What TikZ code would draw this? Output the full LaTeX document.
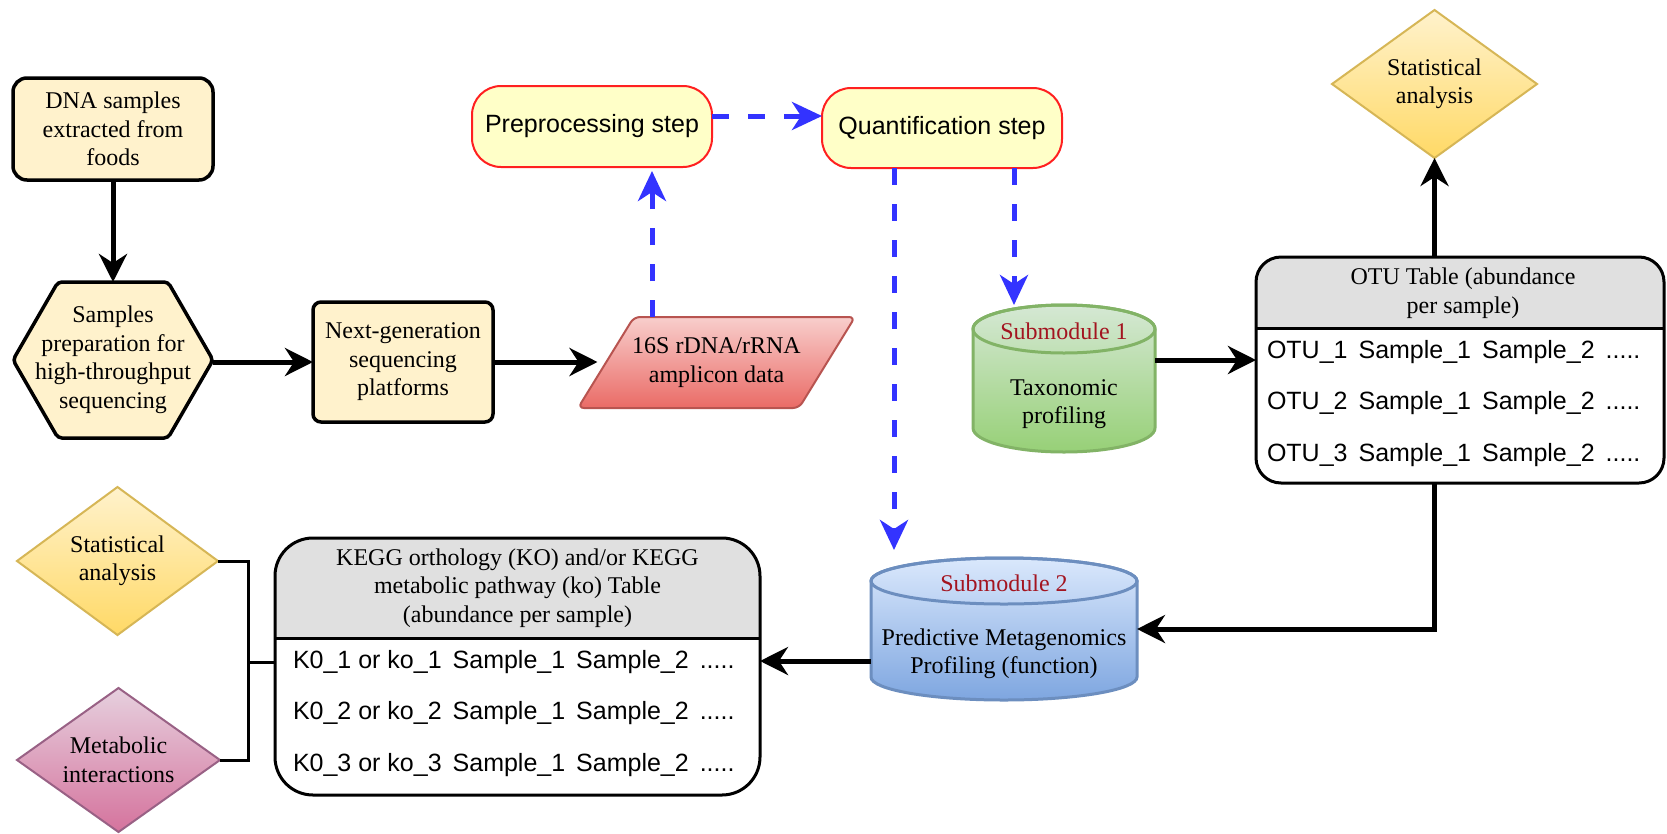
\documentclass[tikz,border=0pt]{standalone}
\usepackage{fontspec}
\setmainfont{Liberation Serif}
\newfontfamily\arialf{Liberation Sans}
\usetikzlibrary{shapes.geometric,arrows.meta,calc}
\pgfdeclarelayer{bg}
\pgfsetlayers{bg,main}
\definecolor{beige}{HTML}{FFF2CC}
\definecolor{pillfill}{HTML}{FFFFC8}
\definecolor{pillline}{HTML}{FF2020}
\definecolor{redtop}{HTML}{F8CECC}
\definecolor{redbot}{HTML}{EA6B66}
\definecolor{redline}{HTML}{B85450}
\definecolor{grtop}{HTML}{D5E8D4}
\definecolor{grbot}{HTML}{97D077}
\definecolor{grline}{HTML}{82B366}
\definecolor{bltop}{HTML}{DAE8FC}
\definecolor{blbot}{HTML}{7EA6E0}
\definecolor{blline}{HTML}{6C8EBF}
\definecolor{yltop}{HTML}{FFF2CC}
\definecolor{ylbot}{HTML}{FFD966}
\definecolor{ylline}{HTML}{D6B656}
\definecolor{pktop}{HTML}{E6D0DE}
\definecolor{pkbot}{HTML}{D5739D}
\definecolor{pkline}{HTML}{996185}
\definecolor{hdrgray}{HTML}{E0E0E0}
\definecolor{subred}{HTML}{A31420}
\definecolor{dashblue}{HTML}{3333FF}
\begin{document}
\begin{tikzpicture}[x=1pt,y=-1pt,
  serif/.style={font=\fontsize{24}{28.5}\selectfont, align=center, inner sep=0pt, outer sep=0pt},
  sanstxt/.style={font=\arialf\fontsize{25}{30}\selectfont, inner sep=0pt, outer sep=0pt},
  stepbox/.style={serif, draw=black, line width=3.5pt, fill=beige},
  holder/.style={inner sep=0pt, outer sep=0pt},
  pill/.style={sanstxt, align=center, draw=pillline, line width=2pt, fill=pillfill, rounded corners=29pt},
  dia/.style={diamond, aspect=1.38, serif, line width=2pt},
  arr/.style={-{Stealth[length=28pt,width=28pt,inset=9pt]}, line width=5pt, draw=black},
  darr/.style={-{Stealth[length=30pt,width=28pt,inset=9pt]}, line width=5pt, draw=dashblue, dash pattern=on 17pt off 19pt},
  brk/.style={line width=3pt, draw=black},
  tblline/.style={draw=black, line width=3pt},
  shapeline/.style={draw=black, line width=3.5pt}
]
\begin{pgfonlayer}{bg}
\fill[white] (0,0) rectangle (1667,833);
\end{pgfonlayer}
\useasboundingbox (0,0) rectangle (1667,833);

% ---------- nodes ----------
\node[stepbox, rounded corners=14pt, minimum width=200pt, minimum height=102pt] (dna) at (113,129) {DNA samples\\extracted from\\foods};
\node[serif, minimum width=200pt, minimum height=156pt] (prep) at (113,360) {Samples\\preparation for\\high-throughput\\sequencing};
\node[stepbox, rounded corners=8pt, minimum width=180pt, minimum height=120pt] (ngs) at (403,362) {Next-generation\\sequencing\\platforms};
\node[serif, minimum width=238pt, minimum height=91pt] (data) at (716.5,362.5) {16S rDNA/rRNA\\amplicon data};
\node[pill, minimum width=240pt, minimum height=81pt] (pre) at (592,126.5) {Preprocessing step};
\node[pill, minimum width=240pt, minimum height=80pt] (quant) at (942,128) {Quantification step};

\node[holder, minimum width=182pt, minimum height=147pt] (sub1) at (1064,378.5) {};
\node[serif, text=subred] (sub1t) at (1064,331) {Submodule 1};
\node[serif] (sub1b) at (1064,404) {Taxonomic\\profiling};

\node[holder, minimum width=266pt, minimum height=142pt] (sub2) at (1004,629) {};
\node[serif, text=subred] (sub2t) at (1004,583) {Submodule 2};
\node[serif] (sub2b) at (1004,654) {Predictive Metagenomics\\Profiling (function)};

\node[holder, minimum width=408pt, minimum height=226pt] (otu) at (1460,370) {};
\node[serif] (otuh) at (1463,293) {OTU Table (abundance\\per sample)};
\node[sanstxt, anchor=west] (otu1) at (1267,352) {OTU\_1\hspace{11pt}Sample\_1\hspace{11pt}Sample\_2\hspace{11pt}.....};
\node[sanstxt, anchor=west] (otu2) at (1267,403) {OTU\_2\hspace{11pt}Sample\_1\hspace{11pt}Sample\_2\hspace{11pt}.....};
\node[sanstxt, anchor=west] (otu3) at (1267,455) {OTU\_3\hspace{11pt}Sample\_1\hspace{11pt}Sample\_2\hspace{11pt}.....};

\node[holder, minimum width=485pt, minimum height=257pt] (kegg) at (517.5,666.5) {};
\node[serif] (keggh) at (517.5,588) {KEGG orthology (KO) and/or KEGG\\metabolic pathway (ko) Table\\(abundance per sample)};
\node[sanstxt, anchor=west] (kegg1) at (293,662) {K0\_1 or ko\_1\hspace{11pt}Sample\_1\hspace{11pt}Sample\_2\hspace{11pt}.....};
\node[sanstxt, anchor=west] (kegg2) at (293,713) {K0\_2 or ko\_2\hspace{11pt}Sample\_1\hspace{11pt}Sample\_2\hspace{11pt}.....};
\node[sanstxt, anchor=west] (kegg3) at (293,765) {K0\_3 or ko\_3\hspace{11pt}Sample\_1\hspace{11pt}Sample\_2\hspace{11pt}.....};

\node[dia, draw=ylline, top color=yltop, bottom color=ylbot, minimum width=205pt, minimum height=148pt] (stat1) at (1434.5,84) {Statistical\\analysis};
\node[dia, draw=ylline, top color=yltop, bottom color=ylbot, minimum width=201pt, minimum height=148pt] (stat2) at (117.5,561) {Statistical\\analysis};
\node[dia, aspect=1.41, draw=pkline, top color=pktop, bottom color=pkbot, minimum width=203pt, minimum height=144pt] (meta) at (118.5,760) {Metabolic\\interactions};

% ---------- shapes behind the texts ----------
\begin{pgfonlayer}{bg}
% hexagon
\draw[shapeline, fill=beige, rounded corners=4pt] (prep.west) -- ([xshift=45pt]prep.north west) -- ([xshift=-45pt]prep.north east) -- (prep.east) -- ([xshift=-45pt]prep.south east) -- ([xshift=45pt]prep.south west) -- cycle;
% parallelogram
\draw[draw=redline, line width=2pt, top color=redtop, bottom color=redbot, rounded corners=6pt]
  ([xshift=-19.5pt]data.south west) -- ([xshift=36.5pt]data.north west) -- ([xshift=19.5pt]data.north east) -- ([xshift=-36.5pt]data.south east) -- cycle;
% cylinder 1
\path[draw=grline, line width=3pt, top color=grtop, bottom color=grbot]
  ([yshift=-24pt]sub1.north west) -- ([yshift=24pt]sub1.south west)
  arc[start angle=180, end angle=0, x radius=91, y radius=24]
  -- ([yshift=-24pt]sub1.north east)
  arc[start angle=0, end angle=-180, x radius=91, y radius=24] -- cycle;
\draw[grline, line width=3pt] ([yshift=-24pt]sub1.north) ellipse[x radius=91, y radius=24];
% cylinder 2
\path[draw=blline, line width=3pt, top color=bltop, bottom color=blbot]
  ([yshift=-23pt]sub2.north west) -- ([yshift=23pt]sub2.south west)
  arc[start angle=180, end angle=0, x radius=133, y radius=23]
  -- ([yshift=-23pt]sub2.north east)
  arc[start angle=0, end angle=-180, x radius=133, y radius=23] -- cycle;
\draw[blline, line width=3pt] ([yshift=-23pt]sub2.north) ellipse[x radius=133, y radius=23];
% OTU table
\fill[white, rounded corners=25pt] (otu.south west) rectangle (otu.north east);
\begin{scope}
\clip[rounded corners=25pt] (otu.south west) rectangle (otu.north east);
\fill[hdrgray] (otu.north west) rectangle ([yshift=-71pt]otu.north east);
\end{scope}
\draw[tblline] ([yshift=-71pt]otu.north west) -- ([yshift=-71pt]otu.north east);
\draw[tblline, rounded corners=25pt] (otu.south west) rectangle (otu.north east);
% KEGG table
\fill[white, rounded corners=38pt] (kegg.south west) rectangle (kegg.north east);
\begin{scope}
\clip[rounded corners=38pt] (kegg.south west) rectangle (kegg.north east);
\fill[hdrgray] (kegg.north west) rectangle ([yshift=-100pt]kegg.north east);
\end{scope}
\draw[tblline] ([yshift=-100pt]kegg.north west) -- ([yshift=-100pt]kegg.north east);
\draw[tblline, rounded corners=38pt] (kegg.south west) rectangle (kegg.north east);
\end{pgfonlayer}

% ---------- connectors ----------
\draw[arr] (dna.south) -- (prep.north);
\draw[arr] (prep.east |- ngs.west) -- (ngs.west);
\draw[arr] (ngs.east) -- (ngs.east -| data.west);
\draw[darr, shorten >=4pt] ([xshift=-64.5pt]data.north) -- ([xshift=-64.5pt]data.north |- pre.south);
\draw[darr] ([yshift=10.5pt]pre.east) -- ([yshift=10.5pt]pre.east -| quant.west);
\draw[darr, shorten >=8pt] ([xshift=-48pt]quant.south) -- ([xshift=-48pt]quant.south |- sub2.north);
\draw[darr] ([xshift=72pt]quant.south) -- ([xshift=72pt]quant.south |- sub1.north);
\draw[arr] ([yshift=18.5pt]sub1.east) -- ([yshift=18.5pt]sub1.east -| otu.west);
\draw[arr] (otu.north -| stat1.south) -- (stat1.south);
\draw[arr] (otu.south -| stat1.south) |- (sub2.east);
\draw[arr] ([yshift=-32pt]sub2.west) -- ([yshift=-32pt]sub2.west -| kegg.east);
\coordinate (bx) at (248,662);
\draw[brk] (stat2.east) -| (bx) |- (meta.east);
\draw[brk] (bx) -- (bx -| kegg.west);
\end{tikzpicture}
\end{document}
